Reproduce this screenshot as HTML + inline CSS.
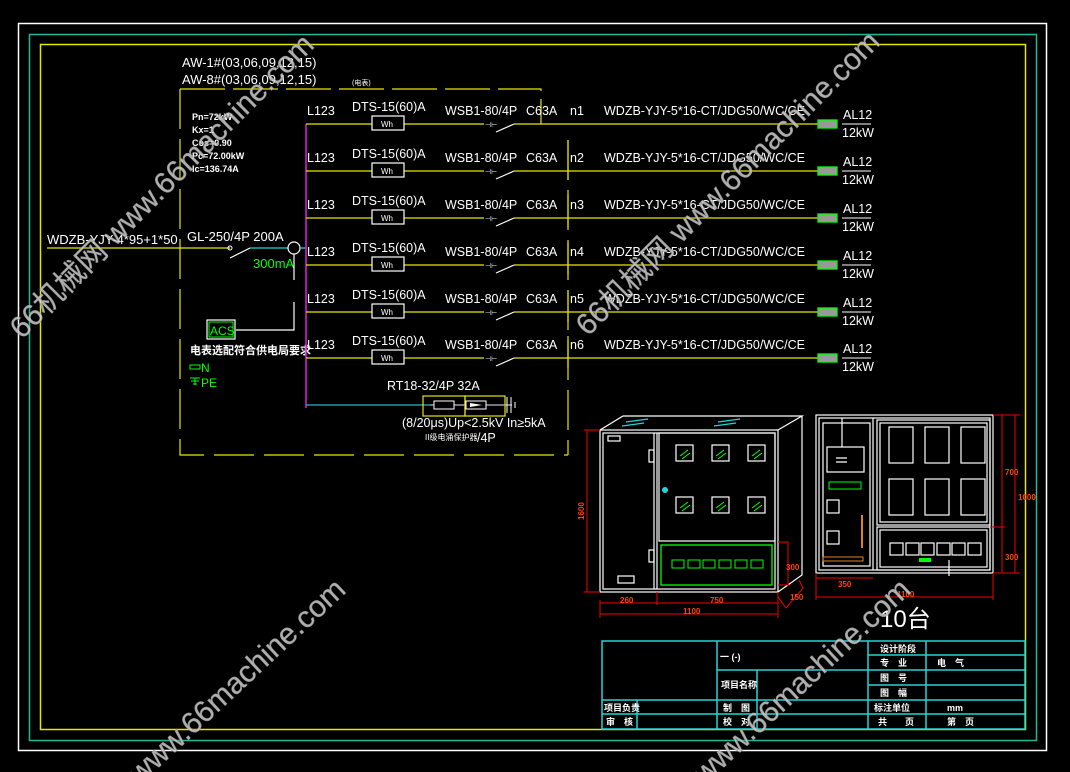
<!DOCTYPE html>
<html><head><meta charset="utf-8"><style>
html,body{margin:0;padding:0;background:#000;}
svg{display:block}
text{font-family:"Liberation Sans","Noto Sans CJK SC",sans-serif;}
</style></head><body>
<svg width="1070" height="772" viewBox="0 0 1070 772" xmlns="http://www.w3.org/2000/svg">
<rect width="1070" height="772" fill="#000"/>
<!-- frames -->
<rect x="18.5" y="23.5" width="1028" height="727" fill="none" stroke="#fff" stroke-width="1.5"/>
<rect x="29.5" y="34.5" width="1007" height="706" fill="none" stroke="#1fb89a" stroke-width="1.5"/>
<rect x="40.5" y="44.5" width="985" height="685" fill="none" stroke="#e6e600" stroke-width="1.5"/>

<!-- header texts -->
<g fill="#fff" font-size="13">
<text x="182" y="67">AW-1#(03,06,09,12,15)</text>
<text x="182" y="84">AW-8#(03,06,09,12,15)</text>
<text x="352" y="85" font-size="7">(电表)</text>
</g>
<!-- dashed enclosure -->
<g stroke="#e6e600" stroke-width="1.2" fill="none">
<path d="M180 89 H541 V124" stroke-dasharray="45,8"/>
<path d="M180 89 V455 H568" stroke-dasharray="40,10"/>
<path d="M568 140 V455" stroke-dasharray="40,10"/>
</g>
<g fill="#fff" font-size="9" font-weight="bold" font-family="Liberation Serif,serif">
<text x="192" y="120">Pn=72kW</text>
<text x="192" y="133">Kx=1</text>
<text x="192" y="146">Cos=0.90</text>
<text x="192" y="159">Pc=72.00kW</text>
<text x="192" y="172">Ic=136.74A</text>
</g>

<!-- main incoming -->
<line x1="47" y1="248" x2="230" y2="248" stroke="#e6e600" stroke-width="1.3"/>
<text x="47" y="244" fill="#fff" font-size="13">WDZB-YJY-4*95+1*50</text>
<text x="187" y="241" fill="#fff" font-size="13">GL-250/4P 200A</text>
<circle cx="230" cy="248" r="2" fill="none" stroke="#fff"/>
<line x1="230" y1="258" x2="250" y2="248" stroke="#fff" stroke-width="1.2"/>
<line x1="250" y1="248" x2="288" y2="248" stroke="#22d6d6" stroke-width="1.3"/>
<circle cx="294" cy="248" r="6" fill="none" stroke="#fff" stroke-width="1.2"/>
<line x1="300" y1="248" x2="306" y2="248" stroke="#22d6d6" stroke-width="1.3"/>
<text x="253" y="268" fill="#0f0" font-size="13">300mA</text>
<path d="M294 254 V280 M294 302 V330 H236" stroke="#fff" stroke-width="1.2" fill="none"/>
<rect x="207" y="320" width="28" height="19" fill="none" stroke="#fff" stroke-width="1.2"/>
<rect x="209" y="322" width="24" height="15" fill="none" stroke="#0f0"/>
<text x="210" y="335" fill="#0f0" font-size="12">ACS</text>
<text x="190" y="354" fill="#fff" font-size="11" font-weight="bold">电表选配符合供电局要求</text>
<rect x="190" y="365" width="10" height="4" fill="none" stroke="#0f0"/>
<text x="201" y="372" fill="#0f0" font-size="12">N</text>
<path d="M190 378 H200 M195 378 V385 M191 381 H199 M193 384 H197" stroke="#0f0"/>
<text x="201" y="387" fill="#0f0" font-size="12">PE</text>

<!-- bus -->
<line x1="306" y1="124" x2="306" y2="408" stroke="#e020e0" stroke-width="1.5"/>
<line x1="306" y1="405" x2="430" y2="405" stroke="#22b8c8" stroke-width="1.3"/>

<!-- rows -->
<defs>
<g id="row">
<line x1="306" y1="0" x2="818" y2="0" stroke="#e6e600" stroke-width="1.3"/>
<text x="307" y="-9" fill="#fff" font-size="12.5">L123</text>
<text x="352" y="-13" fill="#fff" font-size="12.5">DTS-15(60)A</text>
<rect x="372" y="-8" width="32" height="14" fill="#000" stroke="#fff" stroke-width="1.2"/>
<text x="381" y="3" fill="#fff" font-size="8" font-family="Liberation Serif,serif">Wh</text>
<text x="445" y="-9" fill="#fff" font-size="12.5">WSB1-80/4P</text>
<text x="526" y="-9" fill="#fff" font-size="12.5">C63A</text>
<rect x="484" y="-2" width="14" height="4" fill="#000"/>
<text x="485" y="3" fill="#fff" font-size="7">⊣⊢</text>
<rect x="498" y="-4" width="16" height="8" fill="#000"/>
<line x1="496" y1="8" x2="514" y2="0" stroke="#fff" stroke-width="1.2"/>
<text x="570" y="-9" fill="#fff" font-size="12.5">n1</text>
<text x="604" y="-9" fill="#fff" font-size="12.5">WDZB-YJY-5*16-CT/JDG50/WC/CE</text>
<rect x="818" y="-4" width="19" height="8" fill="#999" stroke="#0f0" stroke-width="1.3"/>
<text x="843" y="-5" fill="#fff" font-size="12.5">AL12</text>
<line x1="842" y1="0" x2="871" y2="0" stroke="#fff"/>
<text x="842" y="13" fill="#fff" font-size="12.5">12kW</text>
</g>
</defs>
<use href="#row" y="124"/>
<use href="#row" y="171"/>
<use href="#row" y="218"/>
<use href="#row" y="265"/>
<use href="#row" y="312"/>
<use href="#row" y="358"/>
<g fill="#000"><rect x="569" y="150" width="16" height="14"/><rect x="569" y="197" width="16" height="14"/><rect x="569" y="244" width="16" height="14"/><rect x="569" y="291" width="16" height="14"/><rect x="569" y="337" width="16" height="14"/></g>
<g fill="#fff" font-size="12.5"><text x="570" y="162">n2</text><text x="570" y="209">n3</text><text x="570" y="256">n4</text><text x="570" y="303">n5</text><text x="570" y="349">n6</text></g>
<g stroke="#e6e600" stroke-width="1.2"><line x1="568" y1="140" x2="568" y2="180"/><line x1="568" y1="195" x2="568" y2="228"/><line x1="568" y1="242" x2="568" y2="275"/><line x1="568" y1="290" x2="568" y2="322"/><line x1="568" y1="336" x2="568" y2="368"/></g>

<!-- SPD -->
<text x="387" y="390" fill="#fff" font-size="12.5">RT18-32/4P 32A</text>
<rect x="423" y="396" width="42" height="20" fill="none" stroke="#e6e600" stroke-width="1.2"/>
<rect x="465" y="396" width="40" height="20" fill="none" stroke="#e6e600" stroke-width="1.2"/>
<line x1="430" y1="405" x2="512" y2="405" stroke="#bbb" stroke-width="1.3"/>
<rect x="434" y="401" width="20" height="8" fill="#000" stroke="#fff"/>
<rect x="466" y="401" width="20" height="8" fill="#000" stroke="#fff"/>
<path d="M470 403 L482 405 L470 407Z" fill="#fff"/>
<path d="M507 397 V413 M511 397 V413 M515 402 V408" stroke="#fff"/>
<text x="402" y="427" fill="#fff" font-size="12.5">(8/20μs)Up&lt;2.5kV In≥5kA</text>
<text x="425" y="440" fill="#fff" font-size="8">II级电涌保护器</text>
<text x="477" y="442" fill="#fff" font-size="12.5">/4P</text>

<!-- left cabinet -->
<g stroke="#fff" fill="none" stroke-width="1.2">
<rect x="600" y="430" width="178" height="162"/>
<rect x="603" y="433" width="172" height="156"/>
<path d="M600 430 L623 416 H802 L778 430 M802 416 V575 L778 592"/>
<line x1="657" y1="433" x2="657" y2="589"/>
<line x1="654" y1="433" x2="654" y2="589"/>
<rect x="659" y="433" width="116" height="108"/>
<rect x="608" y="436" width="12" height="5"/>
<rect x="618" y="576" width="16" height="7"/>
<rect x="649" y="450" width="5" height="12"/>
<rect x="649" y="550" width="5" height="12"/>
<rect x="676" y="445" width="17" height="16"/><rect x="712" y="445" width="17" height="16"/><rect x="748" y="445" width="17" height="16"/>
<rect x="676" y="497" width="17" height="16"/><rect x="712" y="497" width="17" height="16"/><rect x="748" y="497" width="17" height="16"/>
</g>
<g fill="none" stroke="#22d6d6" stroke-width="1.2"><path d="M626 422 L648 419 M622 426 L644 423"/><path d="M718 422 L740 419 M714 426 L736 423"/></g>
<circle cx="665" cy="490" r="3" fill="#22d6d6"/>
<g stroke="#0f0" fill="none"><rect x="661" y="545" width="111" height="40" stroke-width="1.3"/><rect x="672" y="560" width="12" height="8"/><rect x="688" y="560" width="12" height="8"/><rect x="703" y="560" width="12" height="8"/><rect x="719" y="560" width="12" height="8"/><rect x="735" y="560" width="12" height="8"/><rect x="751" y="560" width="12" height="8"/>
<path d="M680 456 L688 450 M682 459 L690 453 M716 456 L724 450 M718 459 L726 453 M752 456 L760 450 M754 459 L762 453 M680 508 L688 502 M682 511 L690 505 M716 508 L724 502 M718 511 L726 505 M752 508 L760 502 M754 511 L762 505"/></g>
<!-- dims left -->
<g stroke="#e00" fill="none" stroke-width="1">
<path d="M587 430 V592 M584 430 H600 M584 592 H600"/>
<path d="M600 600 V618 M657 592 V605 M778 592 V618 M600 603 H778 M600 614 H778"/>
<path d="M778 542 H788 V585 M778 585 H790"/>
<path d="M778 597 L786 608 L803 588 L799 580"/>
</g>
<g fill="#f40" font-size="8" font-weight="bold"><text x="620" y="603">260</text><text x="710" y="603">750</text><text x="683" y="614">1100</text><text x="579" y="515" transform="rotate(-90 584 515)">1600</text><text x="786" y="570">300</text><text x="790" y="600">150</text></g>

<!-- right cabinet -->
<g stroke="#fff" fill="none" stroke-width="1.2">
<rect x="816" y="415" width="177" height="158"/>
<rect x="819" y="418" width="171" height="152"/>
<rect x="823" y="423" width="47" height="143"/>
<line x1="873" y1="418" x2="873" y2="570"/>
<rect x="877" y="420" width="113" height="105"/>
<rect x="880" y="423" width="107" height="99"/>
<rect x="877" y="527" width="113" height="43"/>
<rect x="880" y="530" width="107" height="37"/>
<rect x="827" y="447" width="37" height="25"/>
<path d="M836 458 H847 M836 462 H847"/>
<rect x="827" y="500" width="12" height="13"/><rect x="827" y="531" width="12" height="13"/>
<rect x="889" y="427" width="24" height="36"/><rect x="925" y="427" width="24" height="36"/><rect x="961" y="427" width="24" height="36"/>
<rect x="889" y="479" width="24" height="36"/><rect x="925" y="479" width="24" height="36"/><rect x="961" y="479" width="24" height="36"/>
<rect x="890" y="543" width="13" height="12"/><rect x="906" y="543" width="13" height="12"/><rect x="921" y="543" width="13" height="12"/><rect x="937" y="543" width="13" height="12"/><rect x="952" y="543" width="13" height="12"/><rect x="968" y="543" width="13" height="12"/>
<line x1="842" y1="418" x2="842" y2="447"/>
<line x1="949" y1="560" x2="949" y2="576"/>
</g>
<rect x="829" y="482" width="32" height="7" fill="none" stroke="#0f0"/>
<rect x="919" y="558" width="12" height="4" fill="#0f0"/>
<rect x="823" y="557" width="40" height="4" fill="none" stroke="#e08020"/>
<line x1="862" y1="515" x2="862" y2="548" stroke="#e08020" stroke-width="2"/>
<g stroke="#e00" fill="none"><path d="M816 578 H873 M816 597 H993 M816 573 V600 M993 573 V600 M1002 415 V573 M1015 415 V573 M993 415 H1020 M990 527 H1005 M993 573 H1020"/></g>
<g fill="#f40" font-size="8" font-weight="bold"><text x="838" y="587">350</text><text x="897" y="597">1100</text><text x="1005" y="475">700</text><text x="1005" y="560">300</text><text x="1018" y="500">1000</text></g>
<text x="880" y="627" fill="#fff" font-size="24" font-family="Liberation Serif,'Noto Serif CJK SC',serif">10台</text>

<!-- title block -->
<g stroke="#22d6d6" stroke-width="1.5" fill="none">
<rect x="602" y="641" width="423" height="88"/>
<path d="M717 641 V729 M868 641 V729 M926 641 V729 M637 700 V729 M757 670 V729"/>
<path d="M717 670 H868 M868 655 H1025 M868 670 H1025 M868 685 H1025 M602 700 H1025 M602 714 H1025"/>
</g>
<g fill="#fff" font-size="9" font-weight="bold">
<text x="720" y="660">一 (-)</text>
<text x="721" y="688">项目名称</text>
<text x="880" y="652">设计阶段</text>
<text x="880" y="666">专　业</text><text x="937" y="666">电　气</text>
<text x="880" y="681">图　号</text>
<text x="880" y="696">图　幅</text>
<text x="874" y="711">标注单位</text><text x="947" y="711">mm</text>
<text x="878" y="725">共　　页</text><text x="947" y="725">第　页</text>
<text x="604" y="711">项目负责</text>
<text x="606" y="725">审　核</text>
<text x="723" y="711">制　图</text>
<text x="723" y="725">校　对</text>
</g>

<!-- watermarks -->
<g fill="#cfcfcf" fill-opacity="0.85" font-size="30" stroke="#888" stroke-width="0.5">
<text x="0" y="0" transform="translate(22,340) rotate(-45)">66机械网 www.66machine.com</text>
<text x="0" y="0" transform="translate(588,337) rotate(-45)">66机械网 www.66machine.com</text>
<text x="0" y="0" transform="translate(140,785) rotate(-43)">www.66machine.com</text>
<text x="0" y="0" transform="translate(705,785) rotate(-43)">www.66machine.com</text>
</g>
</svg>
</body></html>
